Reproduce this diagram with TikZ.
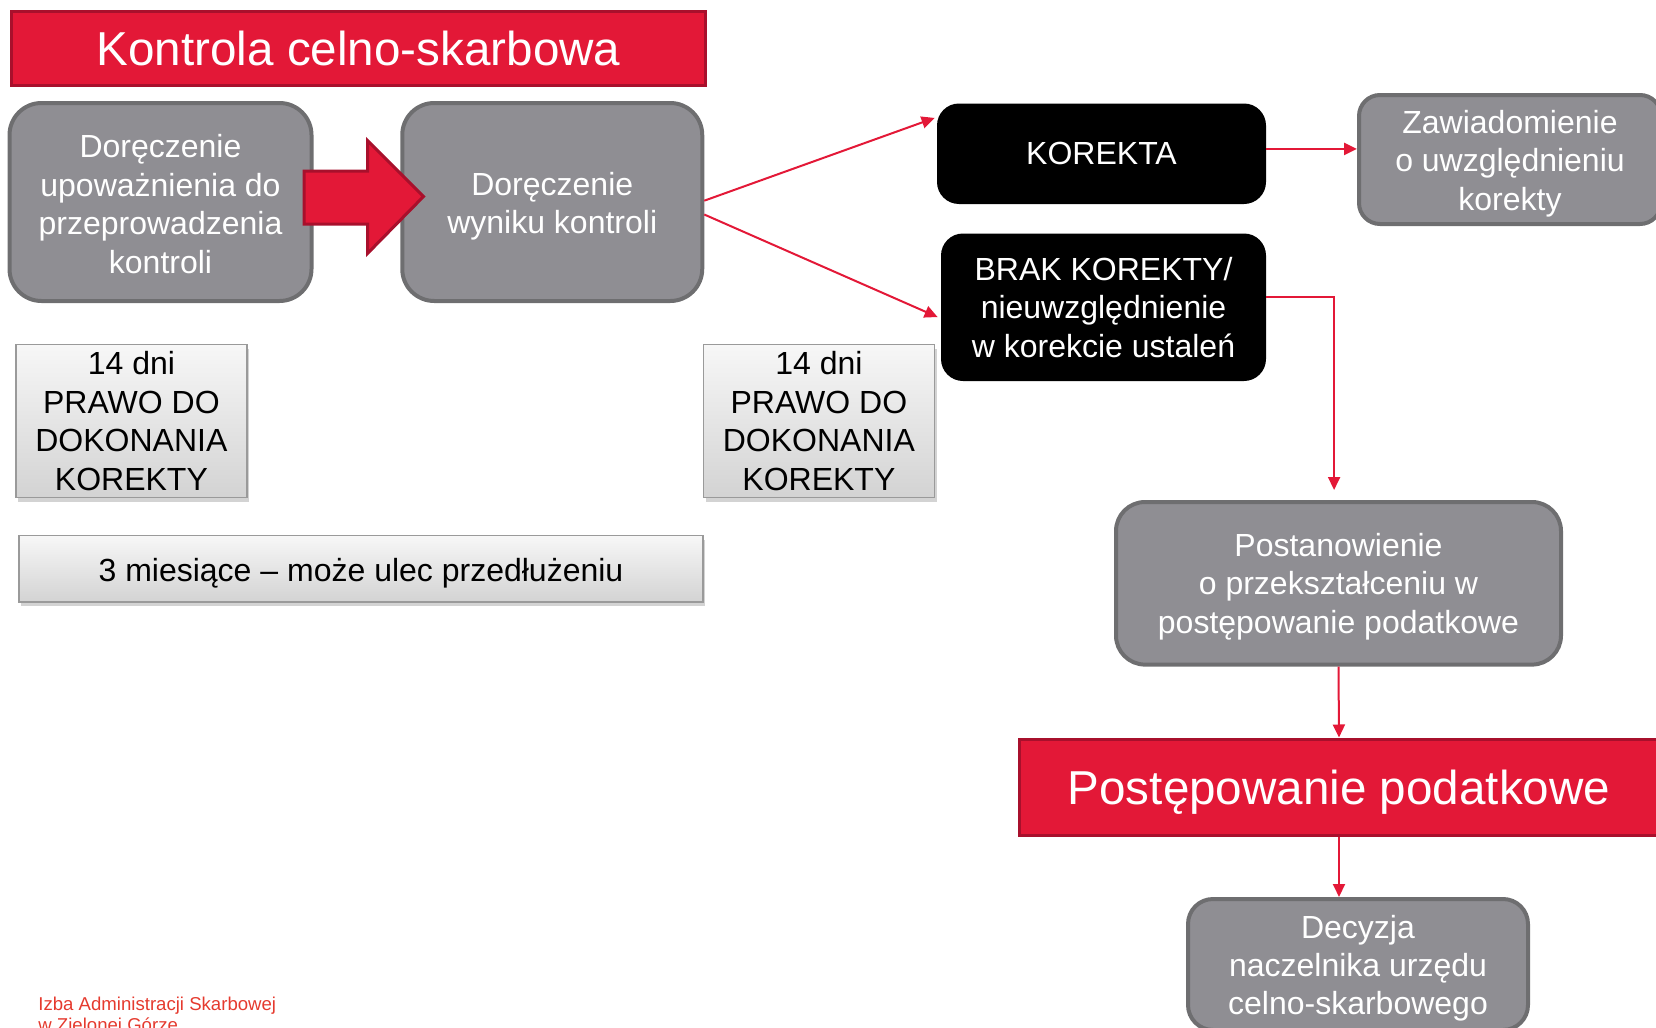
\documentclass[tikz,border=0pt]{standalone}
\usepackage{fontspec}
\setmainfont{Liberation Sans}
\usetikzlibrary{arrows.meta,shadows,calc}
\definecolor{cred}{HTML}{E31837}
\definecolor{credb}{HTML}{A8102C}
\definecolor{cgray}{HTML}{8F8E93}
\definecolor{cgrayb}{HTML}{6E6E70}
\definecolor{clightt}{HTML}{F7F7F7}
\definecolor{clightb}{HTML}{D3D3D3}
\definecolor{clightd}{HTML}{9A9A9A}
\definecolor{cfoot}{HTML}{E53A2E}
\newcommand\tdn[1]{\rule{0pt}{#1}}
\begin{document}
\begin{tikzpicture}[x=0.5pt,y=-0.5pt,
  txt/.style={font=\fontsize{16}{19.2}\selectfont, align=center, inner sep=0pt},
  graybox/.style={txt, draw=cgrayb, line width=2pt, fill=cgray, text=white, rounded corners=#1},
  blackbox/.style={txt, fill=black, text=white, rounded corners=11pt},
  redbox/.style={draw=credb, line width=1.5pt, fill=cred, text=white, inner sep=0pt, font=\fontsize{23.8}{28}\selectfont},
  lightbox/.style={txt, draw=clightd, line width=0.8pt, top color=clightt, bottom color=clightb, text=black,
     drop shadow={shadow xshift=1.2pt, shadow yshift=-2pt, opacity=0.35}},
  arr/.style={draw=cred, line width=1pt, -{Triangle[length=6.5pt,width=6pt]}},
  bigarrow/.style={draw=credb, line width=1.5pt, fill=cred, line join=miter}
]
\useasboundingbox (0,0) rectangle (1656,1028);
\clip (0,0) rectangle (1656,1028);

% title
\node[redbox, minimum width=347pt, minimum height=37pt] (title) at (358.5,48) {Kontrola celno-skarbowa};

% top row
\node[graybox=16pt, minimum width=151pt, minimum height=99pt] (A) at (160.5,202)
  {\tdn{13.6pt}Doręczenie\\upoważnienia do\\przeprowadzenia\\kontroli};
\node[graybox=16pt, minimum width=150pt, minimum height=99pt] (B) at (552.25,202)
  {\tdn{15.6pt}Doręczenie\\wyniku kontroli};

% big red arrow
\draw[bigarrow] (304,171) -- (367.5,171) -- (367.5,140.5) -- (423.5,196.5) -- (367.5,253.5) -- (367.5,224) -- (304,224) -- cycle;

\node[blackbox, minimum width=164.5pt, minimum height=50.25pt] (K) at (1101.5,153.75) {KOREKTA};
\node[blackbox, minimum width=162.5pt, minimum height=73.75pt] (BR) at (1103.5,307.25)
  {BRAK KOREKTY/\\nieuwzględnienie\\w korekcie ustaleń};
\node[graybox=10.5pt, minimum width=151pt, minimum height=64.5pt] (Z) at (1510,159.5)
  {\tdn{15.8pt}Zawiadomienie\\o uwzględnieniu\\korekty};

% light boxes
\node[lightbox, minimum width=115.6pt, minimum height=76.5pt] (L1) at (131.4,421)
  {14 dni\\PRAWO DO\\DOKONANIA\\KOREKTY};
\node[lightbox, minimum width=115.6pt, minimum height=76.5pt] (L2) at (818.9,421)
  {14 dni\\PRAWO DO\\DOKONANIA\\KOREKTY};
\node[lightbox, minimum width=342pt, minimum height=33.2pt] (L3) at (361,568.8)
  {\tdn{15.8pt}3 miesiące – może ulec przedłużeniu};

% right column
\node[graybox=14.5pt, minimum width=222.5pt, minimum height=81.3pt] (P) at (1338.5,583.3)
  {\tdn{14.8pt}Postanowienie\\o przekształceniu w\\postępowanie podatkowe};
\node[redbox, minimum width=320pt, minimum height=48pt] (R2) at (1339,787) {\tdn{22.6pt}Postępowanie podatkowe};
\node[graybox=12.5pt, minimum width=170pt, minimum height=65.5pt] (D) at (1358,964.5)
  {\tdn{15.3pt}Decyzja\\naczelnika urzędu\\celno-skarbowego};

% connectors
\draw[arr] ([yshift=0.65pt]B.east) -- ([yshift=17.9pt,xshift=-1pt]K.west);
\draw[arr] ([yshift=-6.25pt]B.east) -- ([yshift=-4.9pt,xshift=-1.5pt]BR.west);
\draw[arr, line width=1.3pt] ([yshift=2.4pt]K.east) coordinate (k1) -- (k1 -| Z.west);
\draw[arr] ([yshift=5.1pt]BR.east) -| ([xshift=-2.2pt,yshift=5pt]P.north);
\draw[arr] (P.south) -- (R2.north);
\draw[arr] (R2.south) -- (R2.south |- D.north);

% footer
\node[anchor=base west, text=cfoot, inner sep=0pt, font=\fontsize{9.3}{10.5}\selectfont] (f1) at (38,1010) {Izba Administracji Skarbowej};
\node[anchor=base west, text=cfoot, inner sep=0pt, font=\fontsize{9.3}{10.5}\selectfont] (f2) at (38,1031) {w Zielonej Górze};
\end{tikzpicture}
\end{document}
